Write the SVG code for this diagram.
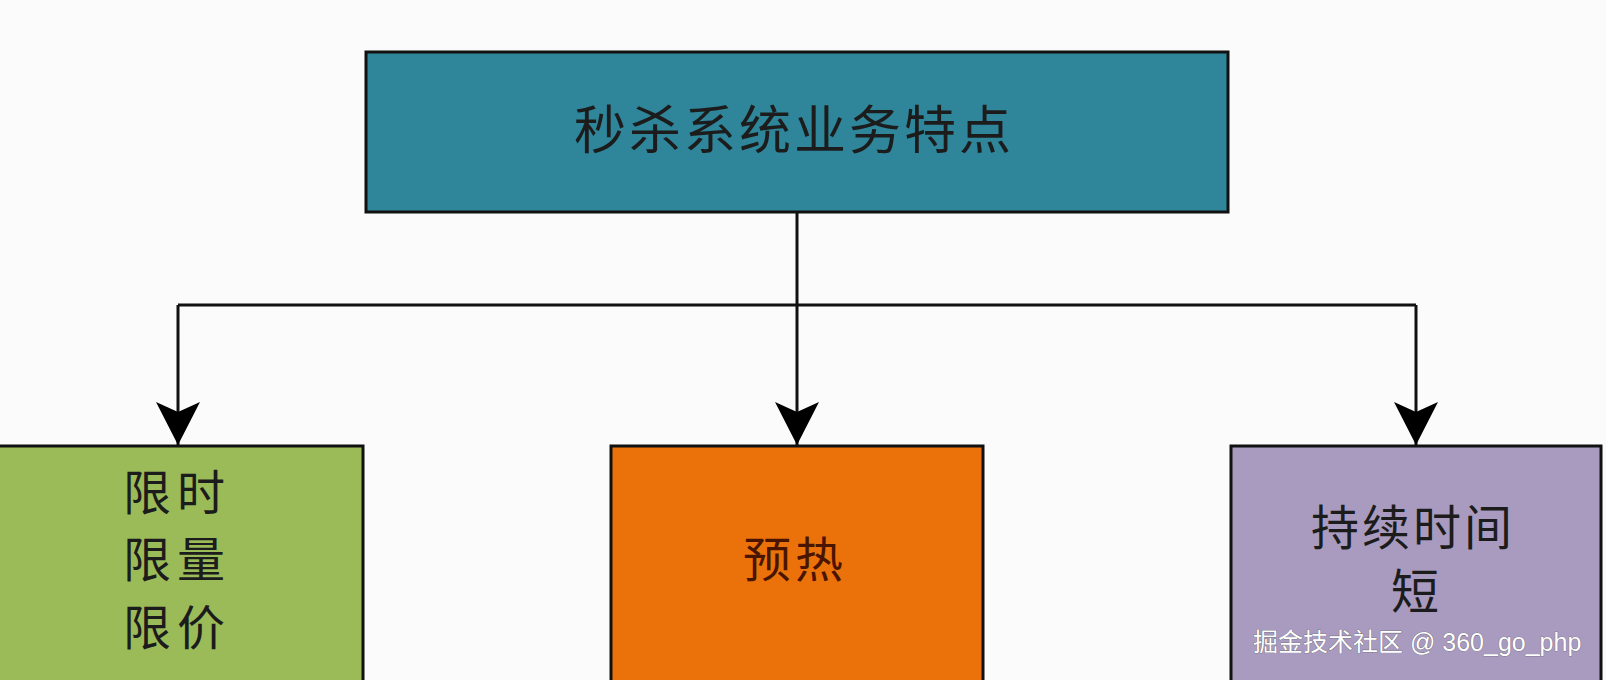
<svg xmlns="http://www.w3.org/2000/svg" width="1606" height="680" viewBox="0 0 1606 680">
<style>
.box{stroke:#111;stroke-width:3}
.t{font-family:"Liberation Sans","Noto Sans CJK SC",sans-serif;font-size:48px;fill:#1c1c1c;text-anchor:middle;dominant-baseline:central}
.c{fill:none;stroke:#111;stroke-width:3}
.wm{font-family:"Liberation Sans","Noto Sans CJK SC",sans-serif;font-size:25px;fill:#ffffff;text-anchor:start;stroke:#555;stroke-width:0.6;paint-order:stroke}
</style>
<defs>
<marker id="ah" viewBox="0 0 43 44" refX="43" refY="22" markerWidth="43" markerHeight="44" markerUnits="userSpaceOnUse" orient="auto">
<path d="M0,0 L10,22 L0,44 L43,22 Z" fill="#000"/>
</marker>
</defs>
<rect width="1606" height="680" fill="#fbfbfb"/>
<g id="connectors">
<line class="c" x1="797" y1="212" x2="797" y2="305"/>
<line class="c" x1="178" y1="305" x2="1416" y2="305"/>
<line class="c" x1="178" y1="305" x2="178" y2="445" marker-end="url(#ah)"/>
<line class="c" x1="797" y1="305" x2="797" y2="445" marker-end="url(#ah)"/>
<line class="c" x1="1416" y1="305" x2="1416" y2="445" marker-end="url(#ah)"/>
</g>
<g id="node-top">
<rect class="box" x="366" y="52" width="862" height="160" fill="#2f8599"/>
<text class="t" x="794" y="131" style="font-size:52px;letter-spacing:3px">秒杀系统业务特点</text>
</g>
<g id="node-limit">
<rect class="box" x="-2" y="446" width="365" height="240" fill="#9bbb59"/>
<text class="t" x="177" y="493" style="letter-spacing:6px">限时</text>
<text class="t" x="177" y="560" style="letter-spacing:6px">限量</text>
<text class="t" x="177" y="628" style="letter-spacing:6px">限价</text>
</g>
<g id="node-preheat">
<rect class="box" x="611" y="446" width="372" height="240" fill="#eb720b"/>
<text class="t" x="795" y="560" style="fill:#4a1500;letter-spacing:4px">预热</text>
</g>
<g id="node-short">
<rect class="box" x="1231" y="446" width="370" height="240" fill="#a99bbf"/>
<text class="t" x="1413" y="528" style="letter-spacing:3px">持续时间</text>
<text class="t" x="1415" y="592">短</text>
</g>
<text class="wm" x="1253" y="651">掘金技术社区 @ 360_go_php</text>
</svg>
